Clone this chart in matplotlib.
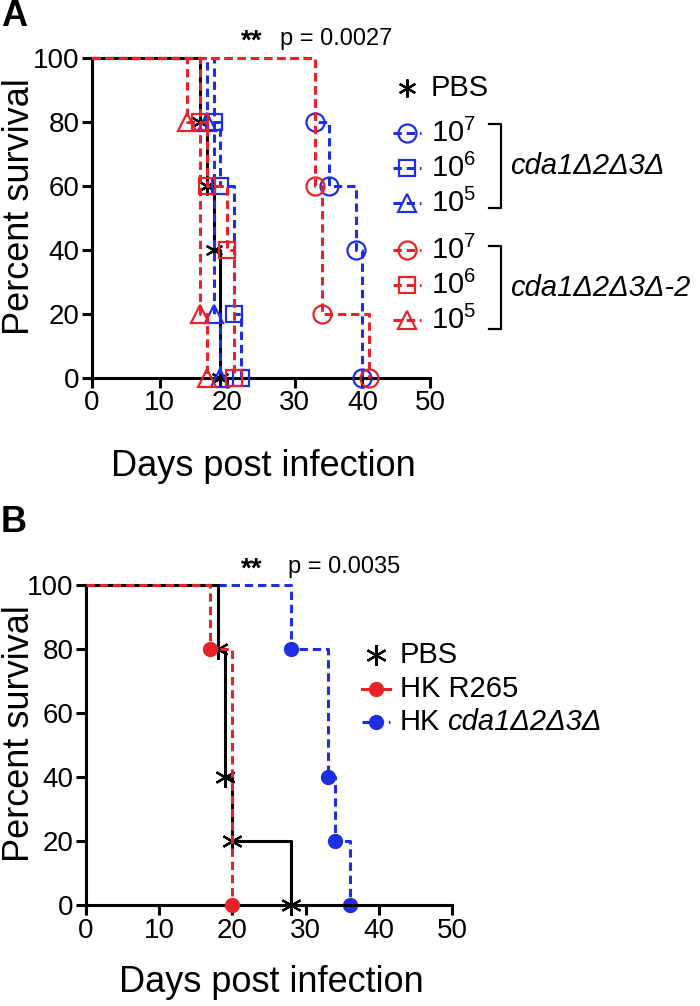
import matplotlib
matplotlib.use('Agg')
import matplotlib.pyplot as plt
from matplotlib.lines import Line2D

plt.rcParams['font.family'] = ['Liberation Sans', 'DejaVu Sans']
plt.rcParams['mathtext.fontset'] = 'custom'
plt.rcParams['mathtext.rm'] = 'Liberation Sans'
plt.rcParams['mathtext.it'] = 'Liberation Sans:italic'
plt.rcParams['lines.scale_dashes'] = False

# ---------------- data ----------------
# Panel A (days of death events, percent survival after event)
a_pbs_days = [16, 17, 18, 19]
a_pbs_surv = [80, 60, 40, 0]
a_b7_days = [33, 35, 39, 40]
a_b7_surv = [80, 60, 40, 0]
a_b6_days = [18, 19, 21, 22]
a_b6_surv = [80, 60, 20, 0]
a_b5_days = [17, 18, 19]
a_b5_surv = [80, 20, 0]
a_r7_days = [33, 34, 41]
a_r7_surv = [60, 20, 0]
a_r6_days = [16, 17, 20, 21]
a_r6_surv = [80, 60, 40, 0]
a_r5_days = [14, 16, 17]
a_r5_surv = [80, 20, 0]
a_dose_labels = ['10$^7$', '10$^6$', '10$^5$']
a_group_labels = ['cda1Δ2Δ3Δ', 'cda1Δ2Δ3Δ-2']
a_pvalue = 'p = 0.0027'

# Panel B
b_pbs_days = [18, 19, 20, 28]
b_pbs_surv = [80, 40, 20, 0]
b_r265_days = [17, 20]
b_r265_surv = [80, 0]
b_cda_days = [28, 33, 34, 36]
b_cda_surv = [80, 40, 20, 0]
b_labels = ['PBS', 'HK R265', 'HK']
b_label_italic = ['', '', 'cda1Δ2Δ3Δ']
b_pvalue = 'p = 0.0035'

x_ticks = [0, 10, 20, 30, 40, 50]
y_ticks = [0, 20, 40, 60, 80, 100]

RED = '#e8222a'
BLUE = '#1f2fe0'
BLACK = '#000000'
ASTER = (6, 2, 0)
DASH = (0, (6, 3.5))

W, H = 700, 1006
fig = plt.figure(figsize=(W / 100, H / 100), dpi=100)


def fx(px):
    return px / W


def fy(py):
    return 1 - py / H


def make_axes(left, right, top, bottom, xlabel_y, ylabel_y):
    ax = fig.add_axes([fx(left), fy(bottom), (right - left) / W, (bottom - top) / H])
    ax.set_xlim(0, 50)
    ax.set_ylim(0, 100)
    ax.set_xticks(x_ticks)
    ax.set_yticks(y_ticks)
    for s in ['top', 'right']:
        ax.spines[s].set_visible(False)
    for s in ['left', 'bottom']:
        ax.spines[s].set_linewidth(2.2)
    ax.tick_params(direction='out', length=7, width=2.2, labelsize=20, pad=2)
    ax.set_xlabel('Days post infection', fontsize=26, va='center')
    ax.xaxis.set_label_coords(0.5, fy(xlabel_y), transform=fig.transFigure)
    ax.xaxis.label.set_x(fx((left + right) / 2 + 2))
    ax.set_ylabel('Percent survival', fontsize=26, va='center')
    ax.yaxis.set_label_coords(fx(20), fy(ylabel_y), transform=fig.transFigure)
    return ax


def survival(ax, days, surv, color, ls, marker, ms, mfc, z, mew=1.6):
    ax.plot([0] + days, [100] + surv, drawstyle='steps-post', color=color,
            linestyle=ls, lw=2.2, clip_on=False, zorder=z)
    ax.plot(days, surv, linestyle='none', marker=marker, ms=ms, mfc=mfc,
            mec=color, mew=mew, clip_on=False, zorder=z + 0.5)


def legend_key(x0, x1, y, color, ls, marker, ms, mfc, mew=1.6, line=True):
    xm = (x0 + x1) / 2
    if line:
        fig.add_artist(Line2D([fx(x0), fx(x1)], [fy(y), fy(y)], color=color,
                              linestyle=ls, lw=2.2, transform=fig.transFigure))
    fig.add_artist(Line2D([fx(xm)], [fy(y)], linestyle='none', marker=marker,
                          ms=ms, mfc=mfc, mec=color, mew=mew,
                          transform=fig.transFigure))


# ---------------- Panel A ----------------
axA = make_axes(92, 430, 58, 378, 467, 207)
survival(axA, a_pbs_days, a_pbs_surv, BLACK, '-', ASTER, 13, 'none', 2)
survival(axA, a_b7_days, a_b7_surv, BLUE, DASH, 'o', 13, 'none', 3)
survival(axA, a_b6_days, a_b6_surv, BLUE, DASH, 's', 12, 'none', 3)
survival(axA, a_b5_days, a_b5_surv, BLUE, DASH, '^', 13, 'none', 3)
survival(axA, a_r7_days, a_r7_surv, RED, DASH, 'o', 13, 'none', 4)
survival(axA, a_r6_days, a_r6_surv, RED, DASH, 's', 12, 'none', 4)
survival(axA, a_r5_days, a_r5_surv, RED, DASH, '^', 13, 'none', 4)

fig.text(fx(14), fy(17), 'A', fontsize=26, fontweight='bold', ha='center', va='center')
fig.text(fx(252), fy(42), '**', fontsize=20, fontweight='bold', ha='center', va='center')
fig.text(fx(280), fy(39), a_pvalue, fontsize=17, ha='left', va='center')

# legend A
legend_key(393, 421, 88, BLACK, '-', ASTER, 13, 'none', line=False)
fig.text(fx(431), fy(88), 'PBS', fontsize=21, ha='left', va='center')
a_rows = [(133, BLUE, 'o', 13), (168, BLUE, 's', 12), (203, BLUE, '^', 13),
          (250, RED, 'o', 13), (285, RED, 's', 12), (320, RED, '^', 13)]
for i, (yy, col, mk, ms) in enumerate(a_rows):
    legend_key(393, 421, yy, col, DASH, mk, ms, 'none')
    fig.text(fx(431), fy(yy), a_dose_labels[i % 3], fontsize=21, ha='left', va='center')

for (top, bot), lab in zip([(124, 208), (246, 329)], a_group_labels):
    fig.add_artist(Line2D([fx(489), fx(501), fx(501), fx(489)],
                          [fy(top), fy(top), fy(bot), fy(bot)], color='black',
                          lw=1.6, transform=fig.transFigure))
    fig.text(fx(510), fy((top + bot) / 2), lab, fontsize=21, style='italic',
             ha='left', va='center')

# ---------------- Panel B ----------------
axB = make_axes(86, 452, 585, 905, 982, 734)
survival(axB, b_cda_days, b_cda_surv, BLUE, DASH, 'o', 10, BLUE, 2, mew=1)
survival(axB, b_pbs_days, b_pbs_surv, BLACK, '-', ASTER, 15, 'none', 3)
survival(axB, b_r265_days, b_r265_surv, RED, DASH, 'o', 10, RED, 4, mew=1)

fig.text(fx(14), fy(522), 'B', fontsize=26, fontweight='bold', ha='center', va='center')
fig.text(fx(252), fy(570), '**', fontsize=20, fontweight='bold', ha='center', va='center')
fig.text(fx(288), fy(567), b_pvalue, fontsize=17, ha='left', va='center')

legend_key(362, 390, 655, BLACK, '-', ASTER, 15, 'none', line=False)
legend_key(362, 390, 689, RED, '-', 'o', 10, RED, mew=1)
legend_key(362, 390, 722, BLUE, DASH, 'o', 10, BLUE, mew=1)
for yy, lab, itl in zip([655, 689, 722], b_labels, b_label_italic):
    t = fig.text(fx(400), fy(yy), lab, fontsize=21, ha='left', va='baseline')
    t.set_y(fy(yy + 8))
    if itl:
        fig.add_artist(matplotlib.text.Annotation(
            itl, xy=(1, 0), xycoords=t, xytext=(4.5, 0), textcoords='offset points',
            fontsize=21, style='italic', ha='left', va='bottom'))

fig.savefig('out.png', dpi=100)
